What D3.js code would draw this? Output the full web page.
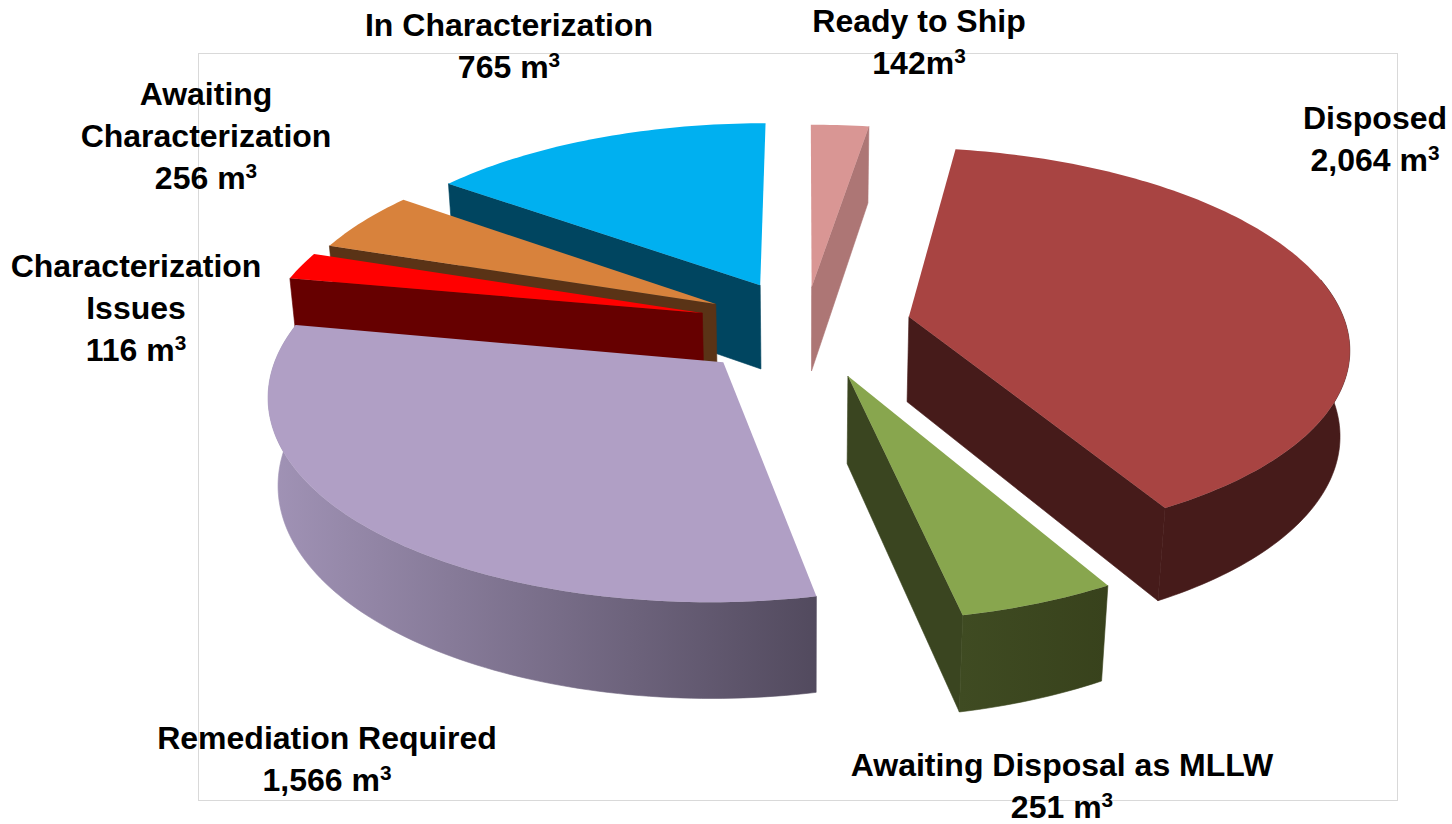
<!DOCTYPE html>
<html>
<head>
<meta charset="utf-8">
<script src="https://cdn.jsdelivr.net/npm/d3@7/dist/d3.min.js"></script>
<style>
  html, body { margin: 0; padding: 0; background: #fff; overflow: hidden; }
  text { font-family: "Liberation Sans", Arial, sans-serif; font-weight: bold; fill: #000; }
</style>
</head>
<body>
<div id="chart"></div>
<script>
// data, clockwise from the top of the pie
const categories = ["Ready to Ship", "Disposed", "Awaiting Disposal as MLLW", "Remediation Required",
                    "Characterization Issues", "Awaiting Characterization", "In Characterization"];
const volumes = [142, 2064, 251, 1566, 116, 256, 765];
const volumeLabels = ["142m", "2,064 m", "251 m", "1,566 m", "116 m", "256 m", "765 m"];
const labelLines = [["Ready to Ship"], ["Disposed"], ["Awaiting Disposal as MLLW"], ["Remediation Required"],
                    ["Characterization", "Issues"], ["Awaiting", "Characterization"], ["In Characterization"]];

// styling per slice, same order
const topColors = ["#D99694", "#A84442", "#88A64E", "#B09FC5", "#FF0000", "#D8823C", "#00B0F0"];
const sideColors = ["#AD7675", "#461B1A", "#3A4520", "#524A5E", "#660000", "#5A3316", "#004560"];
const rimColors = [["#AD7675", "#AD7675"], ["#461B1A", "#461B1A"], ["#3F4B22", "#38421C"], ["#A193B6", "#524A5E"],
                   ["#660000", "#660000"], ["#5A3316", "#5A3316"], ["#004560", "#004560"]];
const explode = [0.2, 0.243, 0.27, 0.26, 0.245, 0.234, 0.235];
const labelPos = [[919, 32], [1375, 129], [1062, 776], [327, 749], [136, 277], [206, 105], [509, 36]];
const drawOrder = [6, 5, 4, 0, 1, 2, 3];

const width = 1452, height = 824;
const frame = { left: 198.5, top: 53.5, right: 1397.5, bottom: 800.5 };

// camera: pie plane is x right, y toward the viewer, radius 1; z runs down through the thickness
const cx = 805, cy = 325;
const sx = 437, sy = 195, sz = 87;
const persp = 0.14, perspZ = 0.018;

// the 3D view is not even in angle, correction in degrees by position round the pie
const angleWarp = d3.scaleLinear()
    .domain([0, 10, 154, 171, 280, 360])
    .range([0, -1, -3.2, -3.2, 0, 0]);
const toDeg = 180 / Math.PI;
const warp = t => t + angleWarp(t * toDeg) / toDeg;

function project(x, y, z) {
    const w = 1 - persp * y + perspZ * z;
    return [cx + sx * x / w, cy + (sy * y + sz * z) / w];
}

const svg = d3.select("#chart").append("svg")
    .attr("width", width)
    .attr("height", height);

svg.append("rect")
    .attr("x", frame.left)
    .attr("y", frame.top)
    .attr("width", frame.right - frame.left)
    .attr("height", frame.bottom - frame.top)
    .attr("fill", "#fff")
    .attr("stroke", "#D9D9D9")
    .attr("stroke-width", 1);

const pie = d3.pie().sort(null).startAngle(0).endAngle(2 * Math.PI);
const arcs = pie(volumes);
const line = d3.line();
const defs = svg.append("defs");
const pieG = svg.append("g");

drawOrder.forEach(i => {
    const a = arcs[i];
    const mid = warp((a.startAngle + a.endAngle) / 2);
    const ox = explode[i] * Math.sin(mid);
    const oy = -explode[i] * Math.cos(mid);

    const steps = Math.max(4, Math.ceil((a.endAngle - a.startAngle) / 0.02));
    const angles = d3.range(steps + 1).map(k => warp(a.startAngle + (a.endAngle - a.startAngle) * k / steps));
    const rimPt = (t, z) => project(ox + Math.sin(t), oy - Math.cos(t), z);

    const rimTop = angles.map(t => rimPt(t, 0));
    const rimBottom = angles.map(t => rimPt(t, 1));
    const apexTop = project(ox, oy, 0);
    const apexBottom = project(ox, oy, 1);

    // radial faces, only the ones turned to the viewer
    if (Math.sin(angles[0]) < -0.01) {
        pieG.append("path")
            .attr("d", line([apexTop, rimTop[0], rimBottom[0], apexBottom]) + "Z")
            .attr("fill", sideColors[i])
            .attr("stroke", sideColors[i])
            .attr("stroke-width", 0.6);
    }
    if (Math.sin(angles[steps]) > 0.01) {
        pieG.append("path")
            .attr("d", line([apexTop, rimTop[steps], rimBottom[steps], apexBottom]) + "Z")
            .attr("fill", sideColors[i])
            .attr("stroke", sideColors[i])
            .attr("stroke-width", 0.6);
    }

    // outer wall on the front of the pie, shaded left to right
    const front = d3.range(steps + 1).filter(k => Math.cos(angles[k]) < 0.2);
    if (front.length > 1) {
        const wallTop = front.map(k => rimTop[k]);
        const wallBottom = front.map(k => rimBottom[k]);
        const xs = wallTop.concat(wallBottom).map(p => p[0]);
        const gradId = "rim" + i;
        const grad = defs.append("linearGradient")
            .attr("id", gradId)
            .attr("gradientUnits", "userSpaceOnUse")
            .attr("x1", d3.min(xs)).attr("x2", d3.max(xs))
            .attr("y1", 0).attr("y2", 0);
        grad.append("stop").attr("offset", 0).attr("stop-color", rimColors[i][0]);
        grad.append("stop").attr("offset", 1).attr("stop-color", rimColors[i][1]);

        pieG.append("path")
            .attr("d", line(wallTop.concat(wallBottom.slice().reverse())) + "Z")
            .attr("fill", `url(#${gradId})`)
            .attr("stroke", `url(#${gradId})`)
            .attr("stroke-width", 0.6);
    }

    // top face
    pieG.append("path")
        .attr("d", line([apexTop].concat(rimTop)) + "Z")
        .attr("fill", topColors[i]);
});

// labels
const fontSize = 32, lineGap = 42;
categories.forEach((name, i) => {
    const [lx, ly] = labelPos[i];
    const lines = labelLines[i];
    const t = svg.append("text")
        .attr("text-anchor", "middle")
        .attr("font-size", fontSize);
    lines.forEach((s, k) => {
        t.append("tspan").attr("x", lx).attr("y", ly + k * lineGap).text(s);
    });
    const v = t.append("tspan").attr("x", lx).attr("y", ly + lines.length * lineGap);
    v.text(volumeLabels[i]);
    v.append("tspan").attr("font-size", fontSize * 0.65).attr("dy", -11).text("3");
});
</script>
</body>
</html>
